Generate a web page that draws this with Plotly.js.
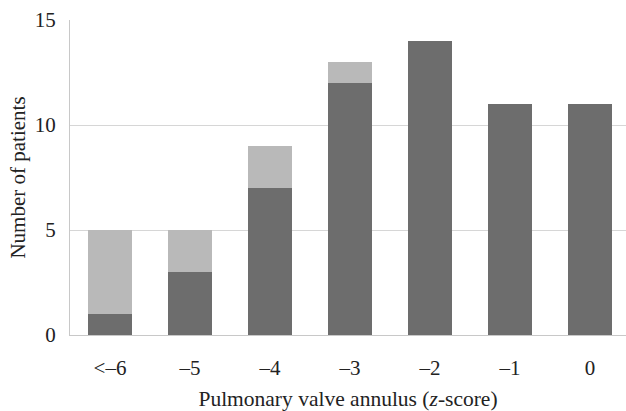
<!DOCTYPE html>
<html><head><meta charset="utf-8">
<script src="https://cdn.plot.ly/plotly-3.0.1.min.js"></script>
<style>html,body{margin:0;padding:0;background:#fff}</style>
</head><body>
<div id="chart" style="width:626px;height:411px"></div>
<script>
const categories = ["<–6", "–5", "–4", "–3", "–2", "–1", "0"];
const darkValues = [1, 3, 7, 12, 14, 11, 11];
const lightValues = [4, 2, 2, 1, 0, 0, 0];
const yTicks = [0, 5, 10, 15];

const traces = [
  {type: "bar", x: categories, y: darkValues, marker: {color: "#6d6d6d"}, width: 0.55, hoverinfo: "skip"},
  {type: "bar", x: categories, y: lightValues, marker: {color: "#b9b9b9"}, width: 0.55, hoverinfo: "skip"}
];
const layout = {
  width: 626, height: 411,
  barmode: "stack",
  showlegend: false,
  paper_bgcolor: "#fff", plot_bgcolor: "#fff",
  margin: {l: 70, r: 0, t: 20, b: 76},
  font: {family: "Liberation Serif, Times New Roman, serif", color: "#222"},
  xaxis: {
    type: "category", range: [-0.5, 6.45],
    showgrid: false, showline: true, linecolor: "#c8c8c8", linewidth: 1,
    ticks: "", tickfont: {size: 21}, ticklabelstandoff: 14,
    title: {text: "Pulmonary valve annulus (<i>z</i>-score)", font: {size: 21.5}, standoff: 13}
  },
  yaxis: {
    range: [0, 15], tickvals: yTicks, showgrid: true, gridcolor: "#d6d6d6",
    showline: true, linecolor: "#c8c8c8", linewidth: 1, zeroline: false,
    ticks: "", tickfont: {size: 21}, ticklabelstandoff: 9,
    title: {text: "Number of patients", font: {size: 21}, standoff: 3}
  }
};
Plotly.newPlot("chart", traces, layout, {staticPlot: true});
</script>
</body></html>
